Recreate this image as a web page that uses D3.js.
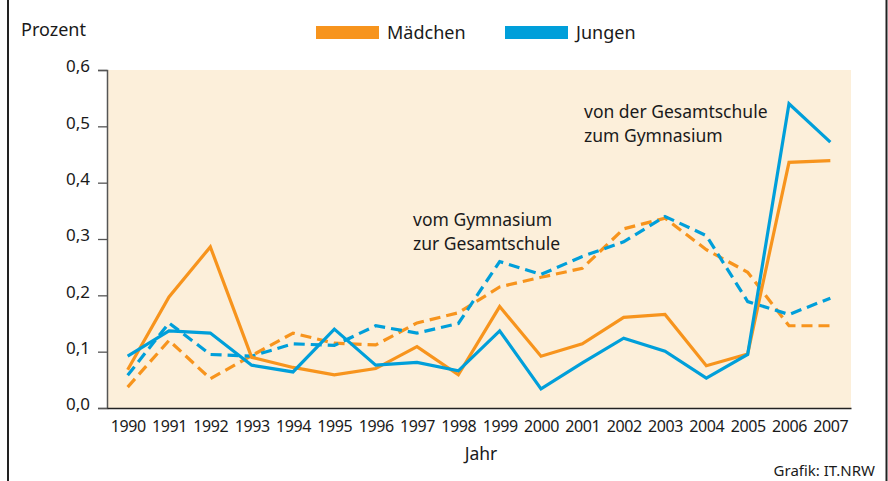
<!DOCTYPE html>
<html>
<head>
<meta charset="utf-8">
<script src="https://cdn.jsdelivr.net/npm/d3@7"></script>
<style>
  body { margin: 0; background: #fff; }
  text { font-family: "Noto Sans", sans-serif; fill: #1a1a1a; }
</style>
</head>
<body>
<svg id="chart" width="888" height="481"></svg>
<script>
const years = ["1990","1991","1992","1993","1994","1995","1996","1997","1998","1999","2000","2001","2002","2003","2004","2005","2006","2007"];
const yTicks = [0, 0.1, 0.2, 0.3, 0.4, 0.5, 0.6];

// vom Gymnasium zur Gesamtschule (gestrichelt)
const maedchenGymGes = [0.037, 0.120, 0.052, 0.093, 0.133, 0.115, 0.112, 0.151, 0.169, 0.215, 0.232, 0.248, 0.318, 0.337, 0.281, 0.241, 0.146, 0.146];
const jungenGymGes   = [0.058, 0.151, 0.095, 0.092, 0.114, 0.111, 0.146, 0.133, 0.150, 0.260, 0.237, 0.269, 0.295, 0.340, 0.306, 0.189, 0.166, 0.195];
// von der Gesamtschule zum Gymnasium (durchgezogen)
const maedchenGesGym = [0.068, 0.197, 0.286, 0.090, 0.072, 0.059, 0.070, 0.109, 0.059, 0.180, 0.092, 0.114, 0.161, 0.166, 0.075, 0.096, 0.436, 0.439];
const jungenGesGym   = [0.092, 0.137, 0.133, 0.076, 0.064, 0.140, 0.076, 0.081, 0.066, 0.137, 0.034, 0.080, 0.124, 0.101, 0.053, 0.095, 0.540, 0.472];

const orange = "#f7941d", blue = "#009fda";

const svg = d3.select("#chart");
const margin = { left: 107, right: 37, top: 70, bottom: 73 };
const width = 888 - margin.left - margin.right;
const height = 481 - margin.top - margin.bottom;

// rahmen links/rechts
svg.append("line").attr("x1", 8).attr("x2", 8).attr("y1", 0).attr("y2", 481)
    .style("stroke", "#222").attr("stroke-width", 2);
svg.append("line").attr("x1", 886.5).attr("x2", 886.5).attr("y1", 0).attr("y2", 481)
    .style("stroke", "#222").attr("stroke-width", 2);

const g = svg.append("g").attr("transform", `translate(${margin.left},${margin.top})`);

const x = d3.scalePoint().domain(years).range([0, width]).padding(0.5);
const y = d3.scaleLinear().domain([0, 0.6]).range([height, 0]);

g.append("rect").attr("width", width).attr("height", height).attr("fill", "#fcefda");

// y-achse
const yAxis = g.append("g")
    .call(d3.axisLeft(y).tickValues(yTicks).tickSize(9).tickPadding(8)
        .tickFormat(d => d3.format(".1f")(d).replace(".", ",")));
yAxis.select(".domain").attr("stroke", "#555").attr("stroke-width", 1.5);
yAxis.selectAll(".tick line").attr("stroke", "#555").attr("stroke-width", 1.3);
yAxis.selectAll("text").style("font-size", "17px").attr("fill", "#1a1a1a")
    .style("font-family", "'Noto Sans', sans-serif").attr("dy", "0.1em");

// x-achse
const xAxis = g.append("g").attr("transform", `translate(0,${height})`)
    .call(d3.axisBottom(x).tickSize(0).tickPadding(10));
xAxis.select(".domain").attr("stroke", "#222").attr("stroke-width", 1.5);
xAxis.selectAll("text").style("font-size", "16px").attr("fill", "#1a1a1a")
    .style("font-family", "'Noto Sans', sans-serif").attr("letter-spacing", "-0.4px").attr("dy", "0.9em");

const line = d3.line().x((d, i) => x(years[i])).y(d => y(d));

const series = [
    { data: maedchenGymGes, color: orange, dash: "11,6" },
    { data: jungenGymGes, color: blue, dash: "11,6" },
    { data: maedchenGesGym, color: orange, dash: null },
    { data: jungenGesGym, color: blue, dash: null }
];
series.forEach(s => {
    g.append("path")
        .datum(s.data)
        .attr("d", line)
        .attr("fill", "none")
        .style("stroke", s.color)
        .attr("stroke-width", 3.2)
        .attr("stroke-linejoin", "miter")
        .attr("stroke-dasharray", s.dash);
});

// beschriftungen
svg.append("text").attr("x", 21).attr("y", 36).style("font-size", "18px").text("Prozent");
svg.append("text").attr("x", 481).attr("y", 460).style("font-size", "17.5px")
    .style("text-anchor", "middle").text("Jahr");
svg.append("text").attr("x", 875).attr("y", 476).style("font-size", "15px")
    .style("text-anchor", "end").text("Grafik: IT.NRW");

const ann = [
    { x: 413, y: 226, lines: ["vom Gymnasium", "zur Gesamtschule"] },
    { x: 584, y: 118, lines: ["von der Gesamtschule", "zum Gymnasium"] }
];
ann.forEach(a => {
    a.lines.forEach((l, i) => {
        svg.append("text").attr("x", a.x).attr("y", a.y + i * 24)
            .style("font-size", "17.5px").text(l);
    });
});

// legende
const legend = [{ name: "Mädchen", color: orange, x: 316 }, { name: "Jungen", color: blue, x: 505 }];
legend.forEach(l => {
    svg.append("rect").attr("x", l.x).attr("y", 26).attr("width", 63).attr("height", 13).attr("fill", l.color);
    svg.append("text").attr("x", l.x + 71).attr("y", 39).style("font-size", "18px").text(l.name);
});
</script>
</body>
</html>
